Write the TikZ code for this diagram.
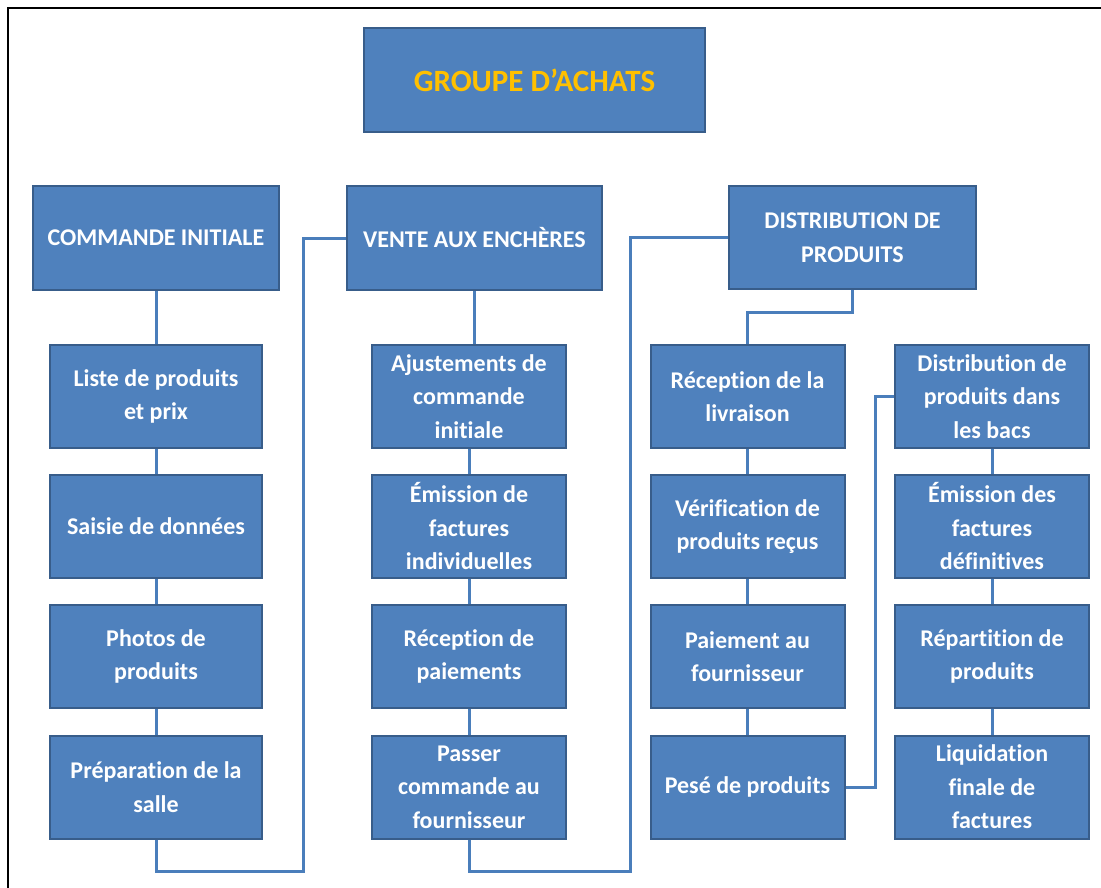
\documentclass[tikz,border=0pt]{standalone}
\usepackage{fontspec}
\setmainfont{Carlito}[Ligatures=NoCommon]
\definecolor{boxfill}{HTML}{4F81BD}
\definecolor{boxline}{HTML}{385D8A}
\definecolor{wire}{HTML}{4A7EBB}
\definecolor{gold}{HTML}{FFC000}

\begin{document}
\begin{tikzpicture}[x=1pt,y=-1pt,
  box/.style={draw=boxline, line width=2pt, fill=boxfill, text=white,
    font=\bfseries\fontsize{24}{33.5}\selectfont, align=center, inner sep=0pt},
  head/.style={box, minimum height=104pt},
  step1/.style={box, minimum width=212pt, minimum height=103pt},
  step2/.style={box, minimum width=194pt, minimum height=103pt},
  wireline/.style={draw=wire, line width=3pt}]
\useasboundingbox (0,0) rectangle (1101,888);

% outer frame
\draw[line width=2.5pt] (8,888) -- (8,8) -- (1101,8);

% top level
\node[head, minimum width=341pt, text=gold, font=\bfseries\fontsize{31}{33}\selectfont] (title) at (534.5,80) {GROUPE D’ACHATS};

% phases
\node[head, minimum width=246pt] (cmd) at (156,238) {COMMANDE INITIALE};
\node[head, minimum width=255pt] (vente) at (474.5,238) {VENTE AUX ENCHÈRES};
\node[head, minimum width=247pt, minimum height=103pt] (distr) at (852.5,237.5) {DISTRIBUTION DE\\PRODUITS};

% column 1
\node[step1] (a1) at (156,396.5) {Liste de produits\\et prix};
\node[step1] (a2) at (156,526.5) {Saisie de données};
\node[step1] (a3) at (156,656.5) {Photos de\\produits};
\node[step1] (a4) at (156,787) {Préparation de la\\salle};

% column 2
\node[step2] (b1) at (469,396.5) {Ajustements de\\commande\\initiale};
\node[step2] (b2) at (469,526.5) {Émission de\\factures\\individuelles};
\node[step2] (b3) at (469,656.5) {Réception de\\paiements};
\node[step2] (b4) at (469,787) {Passer\\commande au\\fournisseur};

% column 3
\node[step2] (c1) at (747.5,396.5) {Réception de la\\livraison};
\node[step2] (c2) at (747.5,526.5) {Vérification de\\produits reçus};
\node[step2] (c3) at (747.5,656.5) {Paiement au\\fournisseur};
\node[step2] (c4) at (747.5,787) {Pesé de produits};

% column 4
\node[step2] (d1) at (992,396.5) {Distribution de\\produits dans\\les bacs};
\node[step2] (d2) at (992,526.5) {Émission des\\factures\\définitives};
\node[step2] (d3) at (992,656.5) {Répartition de\\produits};
\node[step2] (d4) at (992,787) {Liquidation\\finale de\\factures};

% routing points
\coordinate (loopA) at (303,871);
\coordinate (loopB) at (630,871);
\coordinate (split) at (800,312);
\coordinate (bend) at (875,600);

% connectors
\draw[wireline] (cmd.south) -- (a1.north);
\draw[wireline] (a1) -- (a2);
\draw[wireline] (a2) -- (a3);
\draw[wireline] (a3) -- (a4);
\draw[wireline] (a4.south) |- (loopA) |- (vente.west);

\draw[wireline] (vente.south) -- (vente.south |- b1.north);
\draw[wireline] (b1) -- (b2);
\draw[wireline] (b2) -- (b3);
\draw[wireline] (b3) -- (b4);
\draw[wireline] (b4.south) |- (loopB) |- (distr.west);

\draw[wireline] (distr.south) |- (split) -| (c1.north);
\draw[wireline] (c1) -- (c2);
\draw[wireline] (c2) -- (c3);
\draw[wireline] (c3) -- (c4);
\draw[wireline] (c4.east) -| (bend) |- (d1.west);

\draw[wireline] (d1) -- (d2);
\draw[wireline] (d2) -- (d3);
\draw[wireline] (d3) -- (d4);
\end{tikzpicture}
\end{document}
